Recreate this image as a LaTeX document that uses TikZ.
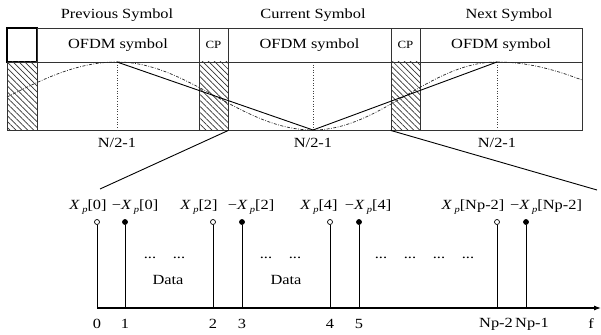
\documentclass[tikz,border=0pt]{standalone}
\usepackage{fontspec}
\setmainfont[FakeStretch=1.17]{Liberation Serif}
\usetikzlibrary{arrows.meta,patterns.meta}

\tikzset{
  cell/.style={draw=black!80, line width=0.8pt, inner sep=0pt, minimum height=34pt},
  wincell/.style={draw=black!80, line width=0.8pt, inner sep=0pt, minimum height=68pt},
  hatchcell/.style={wincell, pattern={Lines[angle=-45,distance=4.2pt,line width=0.7pt]}, pattern color=black!80},
  lbl/.style={inner sep=0pt, font=\fontsize{14}{16}\selectfont},
  window/.style={line width=0.9pt, black},
  smooth win/.style={line width=0.7pt, black!85, dash pattern=on 3pt off 1.5pt on 0.8pt off 1.5pt},
  peakline/.style={line width=0.6pt, black!75, dotted},
  zoomline/.style={line width=0.9pt, black},
  stem/.style={line width=0.9pt, black},
  pilot/.style={circle, draw, line width=0.7pt, fill=white, inner sep=0pt, minimum size=5pt},
  negpilot/.style={pilot, fill=black},
}
\newcommand{\Xp}{\textit{X}\,\raisebox{-0.45ex}{\fontsize{9}{10}\selectfont\textit{p}}}

\begin{document}
\begin{tikzpicture}[x=1pt,y=-1pt]
\useasboundingbox (0,0) rectangle (601,334);

% ---- symbol frame: upper row ----
\node[cell, minimum width=30pt, draw=black, line width=1.5pt] (blank) at (22,45) {};
\node[cell, minimum width=162pt, lbl] (ofdm1) at (118,45) {OFDM symbol};
\node[cell, minimum width=29pt, lbl, font=\fontsize{11}{12}\selectfont] (cp1) at (213.5,45) {CP};
\node[cell, minimum width=163pt, lbl] (ofdm2) at (309.5,45) {OFDM symbol};
\node[cell, minimum width=29pt, lbl, font=\fontsize{11}{12}\selectfont] (cp2) at (405.5,45) {CP};
\node[cell, minimum width=162pt, lbl] (ofdm3) at (501,45) {OFDM symbol};

% ---- symbol frame: lower row (window shapes) ----
\node[hatchcell, minimum width=30pt] (h0) at (22,96) {};
\node[wincell, minimum width=162pt] (w1) at (118,96) {};
\node[hatchcell, minimum width=29pt] (h1) at (213.5,96) {};
\node[wincell, minimum width=163pt] (w2) at (309.5,96) {};
\node[hatchcell, minimum width=29pt] (h2) at (405.5,96) {};
\node[wincell, minimum width=162pt] (w3) at (501,96) {};

% titles
\node[lbl] (tprev) at (117,15) {Previous Symbol};
\node[lbl] (tcur)  at (313,15) {Current Symbol};
\node[lbl] (tnext) at (509,15) {Next Symbol};

% peaks and trough
\coordinate (p1) at (117,62);
\coordinate (t2) at (313,130);
\coordinate (p3) at (497,62);
\coordinate (p1b) at (117,130);
\coordinate (t2t) at (313,62);
\coordinate (p3b) at (497,130);
\draw[peakline] (p1) -- (p1b);
\draw[peakline] (t2t) -- (t2);
\draw[peakline] (p3) -- (p3b);

% smooth window
\draw[smooth win] plot[domain=7:117, samples=40] (\x, {96-34*cos((\x-117)/216*180)});
\draw[smooth win] plot[domain=117:313, samples=60] (\x, {96-34*cos((\x-117)/196*180)});
\draw[smooth win] plot[domain=313:497, samples=60] (\x, {96-34*cos((\x-497)/184*180)});
\draw[smooth win] plot[domain=497:582, samples=40] (\x, {96-34*cos((\x-497)/247*180)});

% triangular window
\draw[window] (p1) -- (t2) -- (p3);

\node[lbl] (n1) at (117,143) {N/2-1};
\node[lbl] (n2) at (313,143) {N/2-1};
\node[lbl] (n3) at (497,143) {N/2-1};

% zoom lines to the spectrum
\coordinate (zl) at (100,189);
\coordinate (zr) at (597,190);
\draw[zoomline] (h1.south east) -- (zl);
\draw[zoomline] (h2.south west) -- (zr);

% ---- pilot spectrum ----
\coordinate (ax0) at (97,308);
\coordinate (ax1) at (601,308);
\draw[line width=1.1pt, -{Latex[length=7pt,width=5pt]}] (ax0) -- (ax1);

\foreach \n/\xx/\sty in {0/97/pilot, 1/125/negpilot, 2/213/pilot, 3/242/negpilot,
                         4/330/pilot, 5/359/negpilot, 6/497/pilot, 7/526/negpilot} {
  \coordinate (b\n) at (\xx,308);
  \node[\sty] (s\n) at (\xx,222) {};
  \draw[stem] (b\n) -- (s\n);
}

% amplitudes
\node[lbl] (a0) at (88,207) {\Xp[0]};
\node[lbl] (a1) at (135,207) {\textminus\Xp[0]};
\node[lbl] (a2) at (199,207) {\Xp[2]};
\node[lbl] (a3) at (251,207) {\textminus\Xp[2]};
\node[lbl] (a4) at (319,207) {\Xp[4]};
\node[lbl] (a5) at (368,207) {\textminus\Xp[4]};
\node[lbl] (a6) at (473,207) {\Xp[Np-2]};
\node[lbl] (a7) at (546,207) {\textminus\Xp[Np-2]};

% subcarrier indices
\node[lbl] (k0) at (97,324) {0};
\node[lbl] (k1) at (125,324) {1};
\node[lbl] (k2) at (213,324) {2};
\node[lbl] (k3) at (242,324) {3};
\node[lbl] (k4) at (330,324) {4};
\node[lbl] (k5) at (359,324) {5};
\node[lbl] (k6) at (496,324) {Np-2};
\node[lbl] (k7) at (532,324) {Np-1};
\node[lbl] (kf) at (591,324) {f};

% data carriers
\node[lbl] (d1) at (150,258) {...};
\node[lbl] (d2) at (179,258) {...};
\node[lbl] (dt1) at (168,280) {Data};
\node[lbl] (d3) at (266,258) {...};
\node[lbl] (d4) at (295,258) {...};
\node[lbl] (dt2) at (286,280) {Data};
\node[lbl] (d5) at (381,258) {...};
\node[lbl] (d6) at (410,258) {...};
\node[lbl] (d7) at (439,258) {...};
\node[lbl] (d8) at (468,258) {...};
\end{tikzpicture}
\end{document}
